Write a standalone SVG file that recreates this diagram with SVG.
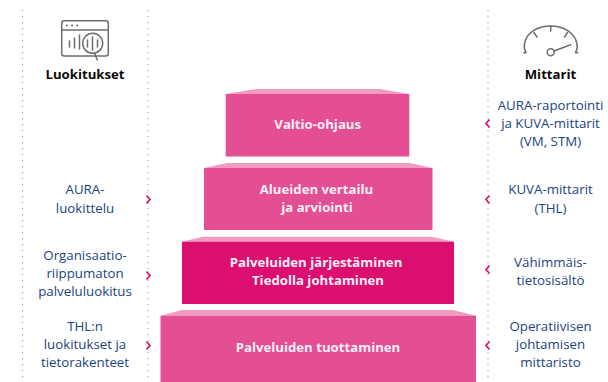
<svg xmlns="http://www.w3.org/2000/svg" width="608" height="382" viewBox="0 0 608 382">
<style>
text{font-family:"Open Sans","Noto Sans",sans-serif;text-anchor:middle}
.l{font-size:13.300px;fill:#1b4480}
.h{font-size:13.200px;font-weight:700;fill:#0a0a0a}
.b{font-size:13.200px;font-weight:700;fill:#fdeef5}
.dot{fill:none;stroke:#999;stroke-width:1;stroke-dasharray:1.2 4.8}
.ch{fill:none;stroke:#dc0f6e;stroke-width:1.7}
.ic{fill:none;stroke:#6b6e72;stroke-width:1.5;stroke-linecap:round;stroke-linejoin:round}
.lt{fill:#f09cc2}
.m{fill:#e44f93}
.d{fill:#db0f6f}
</style>
<rect width="608" height="382" fill="#fff"/>
<g id="connectors">
<path class="dot" d="M22.500 10V382M148 10V382M488 10V382"/>
<path class="ch" d="M146.500 195.500L150 199.500L146.500 203.500M146.500 271.500L150 275.500L146.500 279.500M146.500 341.500L150 345.500L146.500 349.500"/>
<path class="ch" d="M489.500 119.500L486 123.500L489.500 127.500M489.500 195.500L486 199.500L489.500 203.500M489.500 265.500L486 269.500L489.500 273.500M489.500 341.500L486 345.500L489.500 349.500"/>
</g>
<g id="icon-luokitukset" class="ic">
<rect x="61.700" y="20.700" width="46.600" height="35.300" rx="2.500"/>
<path d="M62 30H108"/>
<path d="M67 25.500h.1M72 25.500h.1M77 25.500h.1" stroke-width="2"/>
<path d="M69.500 41v6M74.500 38v10M79.500 35v14"/>
<circle cx="92.700" cy="43.300" r="10" fill="#fff"/>
<path d="M87.500 40v7M92.500 37v13M97.500 40v7"/>
<path d="M94.700 53.500L97.300 60"/>
</g>
<g id="icon-mittarit" class="ic">
<path d="M524 52.700H526C524.500 50 524 46 524.500 44C526 33 537 26 550.700 26C564 26 575 33 577 44C577.500 46 577 50 575.500 52.700H577.700"/>
<path d="M550.700 26V31M534 32.500L537 37M567.500 32.500L564.500 37"/>
<circle cx="550.700" cy="52.300" r="3.500"/>
<path d="M554 51L570.700 44.700"/>
</g>
<g id="node-luokitukset"><text class="h" x="85" y="78.500">Luokitukset</text></g>
<g id="node-mittarit"><text class="h" x="550.500" y="78.500">Mittarit</text></g>
<g id="node-valtio">
<path class="lt" d="M225.700 94L256.700 89H380L409.300 94Z"/>
<rect class="m" x="225.700" y="94" width="183.600" height="62.500"/>
<text class="b" x="317.700" y="129">Valtio-ohjaus</text>
</g>
<g id="node-alueiden">
<path class="lt" d="M204 168L227 163H410L432.500 168Z"/>
<rect class="m" x="204" y="168" width="228.500" height="62"/>
<text class="b" x="316.500" y="194.300">Alueiden vertailu</text>
<text class="b" x="317" y="212.300">ja arviointi</text>
</g>
<g id="node-jarjestaminen">
<path class="lt" d="M182 241.700L203 236.700H431.700L454 241.700Z"/>
<rect class="d" x="182" y="241.700" width="272" height="62.300"/>
<text class="b" x="316" y="267.300">Palveluiden järjestäminen</text>
<text class="b" x="318" y="285.300">Tiedolla johtaminen</text>
</g>
<g id="node-tuottaminen">
<path class="lt" d="M160.500 315.700L182 310H453L476 315.700Z"/>
<rect class="m" x="160.500" y="315.700" width="315.500" height="66.300"/>
<text class="b" x="318" y="351.700">Palveluiden tuottaminen</text>
</g>
<g id="node-aura"><text class="l" x="85" y="194">AURA-</text><text class="l" x="85" y="212.600">luokittelu</text></g>
<g id="node-org"><text class="l" x="85" y="260">Organisaatio-</text><text class="l" x="85" y="278">riippumaton</text><text class="l" x="85" y="296">palveluluokitus</text></g>
<g id="node-thl"><text class="l" x="85" y="331">THL:n</text><text class="l" x="85" y="349">luokitukset ja</text><text class="l" x="85" y="367">tietorakenteet</text></g>
<g id="node-aura-rap"><text class="l" x="550.500" y="110">AURA-raportointi</text><text class="l" x="550.500" y="128">ja KUVA-mittarit</text><text class="l" x="550.500" y="146">(VM, STM)</text></g>
<g id="node-kuva"><text class="l" x="550.500" y="194">KUVA-mittarit</text><text class="l" x="550.500" y="212.600">(THL)</text></g>
<g id="node-vahimmais"><text class="l" x="550.500" y="267">Vähimmäis-</text><text class="l" x="550.500" y="285">tietosisältö</text></g>
<g id="node-operatiivisen"><text class="l" x="550.500" y="331">Operatiivisen</text><text class="l" x="550.500" y="349">johtamisen</text><text class="l" x="550.500" y="367">mittaristo</text></g>
</svg>
